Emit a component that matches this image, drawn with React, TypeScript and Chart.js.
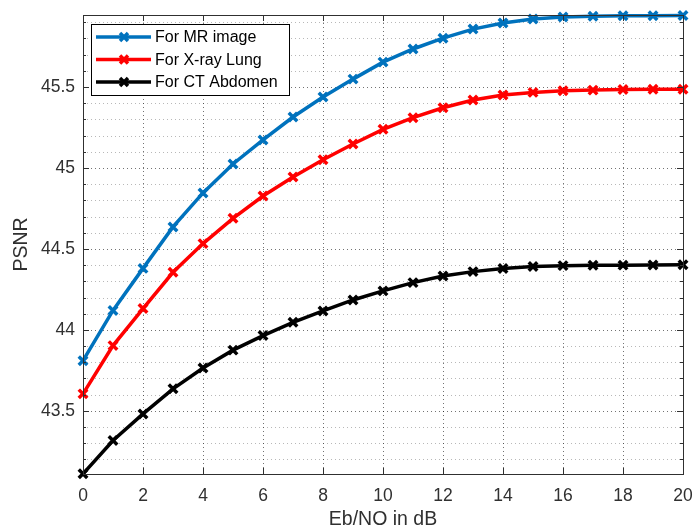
import React, { useEffect, useRef } from "react";
import { Chart, registerables } from "chart.js";

Chart.register(...registerables);

const ebNo = [0, 1, 2, 3, 4, 5, 6, 7, 8, 9, 10, 11, 12, 13, 14, 15, 16, 17, 18, 19, 20];
const mrImage = [43.81, 44.12, 44.38, 44.636, 44.846, 45.025, 45.173, 45.315, 45.438, 45.549, 45.654, 45.735, 45.802, 45.858, 45.895, 45.92, 45.932, 45.937, 45.94, 45.941, 45.942];
const xrayLung = [43.605, 43.903, 44.132, 44.356, 44.533, 44.689, 44.827, 44.944, 45.051, 45.148, 45.239, 45.311, 45.372, 45.42, 45.451, 45.467, 45.477, 45.481, 45.485, 45.486, 45.487];
const ctAbdomen = [43.111, 43.317, 43.481, 43.636, 43.765, 43.875, 43.965, 44.047, 44.117, 44.185, 44.241, 44.292, 44.333, 44.36, 44.379, 44.391, 44.397, 44.399, 44.4, 44.401, 44.402];
const seriesLabels = ["For MR image", "For X-ray Lung", "For CT Abdomen"];
const seriesColors = ["#0072BD", "#FF0000", "#000000"];
const xTicks = [0, 2, 4, 6, 8, 10, 12, 14, 16, 18, 20];
const yTicks = [43.5, 44, 44.5, 45, 45.5];
const yMinorTicks = [43.2, 43.3, 43.4, 43.6, 43.7, 43.8, 43.9, 44.1, 44.2, 44.3, 44.4, 44.6, 44.7, 44.8, 44.9, 45.1, 45.2, 45.3, 45.4, 45.6, 45.7, 45.8, 45.9];
const yMin = 43.11;
const yMax = 45.945;
const xTitle = "Eb/NO in dB";
const yTitle = "PSNR";

const FONT = "'Liberation Sans', Arial, Helvetica, sans-serif";
const AXIS_COLOR = "#303030";

const gridPlugin = {
  id: "matlabGrid",
  beforeDatasetsDraw(chart: any) {
    const { ctx, chartArea: a, scales } = chart;
    const xs = scales.x;
    const ys = scales.y;
    ctx.save();
    ctx.lineWidth = 1;
    ctx.strokeStyle = "rgba(0,0,0,0.28)";
    ctx.setLineDash([1, 3]);
    for (const v of yMinorTicks) {
      const y = Math.round(ys.getPixelForValue(v)) + 0.5;
      ctx.beginPath();
      ctx.moveTo(a.left, y);
      ctx.lineTo(a.right, y);
      ctx.stroke();
    }
    ctx.strokeStyle = "rgba(0,0,0,0.55)";
    ctx.setLineDash([1, 3]);
    for (const v of yTicks) {
      const y = Math.round(ys.getPixelForValue(v)) + 0.5;
      ctx.beginPath();
      ctx.moveTo(a.left, y);
      ctx.lineTo(a.right, y);
      ctx.stroke();
    }
    for (const v of xTicks) {
      const x = Math.round(xs.getPixelForValue(v)) + 0.5;
      ctx.beginPath();
      ctx.moveTo(x, a.top);
      ctx.lineTo(x, a.bottom);
      ctx.stroke();
    }
    ctx.restore();
  },
  afterDatasetsDraw(chart: any) {
    const { ctx, chartArea: a, scales } = chart;
    const xs = scales.x;
    const ys = scales.y;
    ctx.save();
    ctx.setLineDash([]);
    ctx.strokeStyle = AXIS_COLOR;
    ctx.lineWidth = 1;
    ctx.strokeRect(Math.round(a.left) + 0.5, Math.round(a.top) + 0.5, Math.round(a.right - a.left), Math.round(a.bottom - a.top));
    ctx.beginPath();
    for (const v of xTicks) {
      const x = Math.round(xs.getPixelForValue(v)) + 0.5;
      ctx.moveTo(x, a.bottom);
      ctx.lineTo(x, a.bottom - 6);
      ctx.moveTo(x, a.top);
      ctx.lineTo(x, a.top + 6);
    }
    for (const v of yTicks) {
      const y = Math.round(ys.getPixelForValue(v)) + 0.5;
      ctx.moveTo(a.left, y);
      ctx.lineTo(a.left + 6, y);
      ctx.moveTo(a.right, y);
      ctx.lineTo(a.right - 6, y);
    }
    for (const v of yMinorTicks) {
      const y = Math.round(ys.getPixelForValue(v)) + 0.5;
      ctx.moveTo(a.left, y);
      ctx.lineTo(a.left + 3, y);
      ctx.moveTo(a.right, y);
      ctx.lineTo(a.right - 3, y);
    }
    ctx.stroke();
    ctx.restore();
  },
  afterDraw(chart: any) {
    const { ctx, chartArea: a } = chart;
    const bx = a.left + 8;
    const by = a.top + 9;
    const bw = 198;
    const bh = 71;
    ctx.save();
    ctx.fillStyle = "#ffffff";
    ctx.fillRect(bx, by, bw, bh);
    ctx.strokeStyle = "#000000";
    ctx.lineWidth = 1;
    ctx.setLineDash([]);
    ctx.strokeRect(bx + 0.5, by + 0.5, bw, bh);
    chart.data.datasets.forEach((ds: any, i: number) => {
      const cy = by + 13 + i * 22.5;
      ctx.strokeStyle = ds.borderColor;
      ctx.lineWidth = 3.5;
      ctx.beginPath();
      ctx.moveTo(bx + 5, cy);
      ctx.lineTo(bx + 60, cy);
      ctx.stroke();
      const mx = bx + 33;
      const r = 4;
      ctx.beginPath();
      ctx.moveTo(mx - r, cy - r);
      ctx.lineTo(mx + r, cy + r);
      ctx.moveTo(mx - r, cy + r);
      ctx.lineTo(mx + r, cy - r);
      ctx.stroke();
      ctx.fillStyle = "#000000";
      ctx.font = `16px ${FONT}`;
      ctx.textBaseline = "middle";
      ctx.textAlign = "left";
      ctx.fillText(ds.label, bx + 64, cy + 1);
    });
    ctx.restore();
  },
};

export default function App() {
  const canvasRef = useRef<HTMLCanvasElement | null>(null);

  useEffect(() => {
    const canvas = canvasRef.current;
    if (!canvas) return;
    const seriesValues = [mrImage, xrayLung, ctAbdomen];
    const chart = new Chart(canvas, {
      type: "line",
      data: {
        datasets: seriesValues.map((vals, i) => ({
          label: seriesLabels[i],
          data: ebNo.map((x, j) => ({ x, y: vals[j] })),
          borderColor: seriesColors[i],
          backgroundColor: seriesColors[i],
          borderWidth: 3.5,
          pointStyle: "crossRot",
          pointRadius: 6,
          pointBorderWidth: 3.5,
          pointHoverRadius: 6,
          tension: 0,
          fill: false,
          clip: false as any,
        })),
      },
      options: {
        animation: false,
        responsive: true,
        maintainAspectRatio: false,
        layout: { padding: { top: 15, right: 11, left: 0, bottom: 0 } },
        plugins: { legend: { display: false }, tooltip: { enabled: false } },
        scales: {
          x: {
            type: "linear",
            min: 0,
            max: 20,
            afterBuildTicks: (s: any) => {
              s.ticks = xTicks.map((v) => ({ value: v }));
            },
            afterFit: (s: any) => {
              s.height = 55;
              s.paddingLeft = 0;
              s.paddingRight = 0;
            },
            grid: { display: false, drawTicks: false },
            border: { display: false },
            ticks: {
              color: AXIS_COLOR,
              font: { family: FONT, size: 17.5 },
              padding: 12,
              maxRotation: 0,
              callback: (v: any) => String(v),
            },
            title: {
              display: true,
              text: xTitle,
              color: AXIS_COLOR,
              font: { family: FONT, size: 19.5 },
              padding: { top: 0, bottom: -2 },
            },
          },
          y: {
            type: "linear",
            min: yMin,
            max: yMax,
            afterBuildTicks: (s: any) => {
              s.ticks = yTicks.map((v) => ({ value: v }));
            },
            afterFit: (s: any) => {
              s.width = 83;
              s.paddingTop = 0;
              s.paddingBottom = 0;
            },
            grid: { display: false, drawTicks: false },
            border: { display: false },
            ticks: {
              color: AXIS_COLOR,
              font: { family: FONT, size: 17.5 },
              padding: 8,
              callback: (v: any) => String(v),
            },
            title: {
              display: true,
              text: yTitle,
              color: AXIS_COLOR,
              font: { family: FONT, size: 19.5 },
              padding: { top: 10, bottom: 0 },
            },
          },
        },
      },
      plugins: [gridPlugin],
    });
    return () => chart.destroy();
  }, []);

  return (
    <div style={{ position: "fixed", left: 0, top: 0, width: 694, height: 529, background: "#ffffff" }}>
      <canvas ref={canvasRef} />
    </div>
  );
}
